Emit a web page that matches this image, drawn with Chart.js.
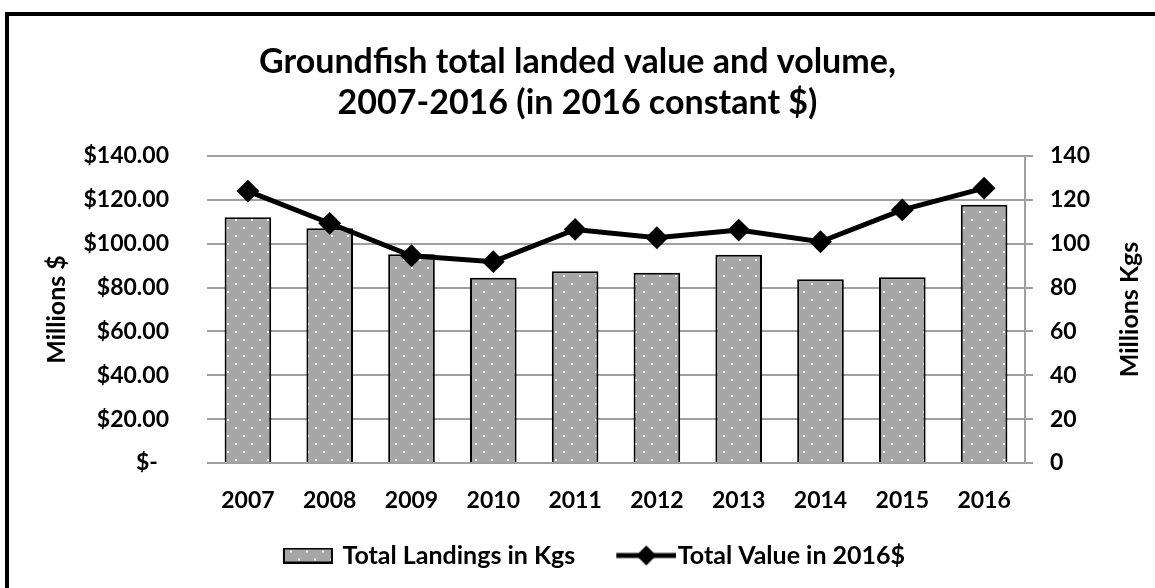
<!DOCTYPE html>
<html>
<head>
<meta charset="utf-8">
<script src="https://cdn.jsdelivr.net/npm/chart.js@4.4.1/dist/chart.umd.min.js"></script>
<style>
  html, body { margin: 0; padding: 0; background: #fff; overflow: hidden; }
  #wrap { position: relative; width: 1155px; height: 588px; }
  #frame { position: absolute; left: 5px; top: 12px; width: 1300px; height: 700px;
           border-left: 4px solid #000; border-top: 4px solid #000; box-sizing: border-box; }
  canvas { position: absolute; left: 0; top: 0; }
</style>
</head>
<body>
<div id="wrap">
  <div id="frame"></div>
  <canvas id="c" width="1155" height="588"></canvas>
</div>
<script>
// ---- data ----
const years = ['2007','2008','2009','2010','2011','2012','2013','2014','2015','2016'];
const landingsKgs = [112, 107, 95.2, 84.5, 87.4, 86.8, 95, 83.8, 84.7, 117.8];   // Millions Kgs
const valueDollars = [124, 109.3, 94.5, 91.8, 106.5, 102.7, 106.2, 100.9, 115.4, 125.3]; // Millions $
const valueTickLabels = ['$-  ', '$20.00', '$40.00', '$60.00', '$80.00', '$100.00', '$120.00', '$140.00'];
const kgsTickLabels = ['0', '20', '40', '60', '80', '100', '120', '140'];
const titleLines = ['Groundfish total landed value and volume,', '2007-2016 (in 2016 constant $)'];
const seriesNames = ['Total Landings in Kgs', 'Total Value in 2016$'];

const FONT = 'Lato';
const SLOT = 80;          // legend symbol slot width
const ICON_W = 102;       // legend icon canvas width (centred on slot)

function makeDotPattern() {
  const p = document.createElement('canvas');
  p.width = 16; p.height = 16;
  const g = p.getContext('2d');
  g.fillStyle = '#a6a6a6';
  g.fillRect(0, 0, 16, 16);
  g.fillStyle = '#ffffff';
  g.fillRect(3, 3, 2, 2);
  g.fillRect(11, 11, 2, 2);
  return p;
}

function makeBarLegendIcon(patternCanvas) {
  const c = document.createElement('canvas');
  c.width = ICON_W; c.height = 16;
  const g = c.getContext('2d');
  g.fillStyle = g.createPattern(patternCanvas, 'repeat');
  g.fillRect(44, 0, 50, 16);
  g.strokeStyle = '#000';
  g.lineWidth = 2;
  g.strokeRect(45, 1, 48, 14);
  return c;
}

function makeLineLegendIcon() {
  const c = document.createElement('canvas');
  c.width = ICON_W; c.height = 24;
  const g = c.getContext('2d');
  g.strokeStyle = '#000';
  g.lineWidth = 5;
  g.beginPath(); g.moveTo(42, 12); g.lineTo(ICON_W, 12); g.stroke();
  g.fillStyle = '#000';
  const cx = 72;
  g.beginPath();
  g.moveTo(cx - 10, 12); g.lineTo(cx, 2); g.lineTo(cx + 10, 12); g.lineTo(cx, 22); g.closePath();
  g.fill();
  return c;
}

const rightTitlePlugin = {
  id: 'rightTitle',
  afterDraw(chart) {
    const {ctx, chartArea} = chart;
    ctx.save();
    ctx.translate(1130, (chartArea.top + chartArea.bottom) / 2);
    ctx.rotate(-Math.PI / 2);
    ctx.font = 'bold 25px ' + FONT;
    ctx.fillStyle = '#000';
    ctx.textAlign = 'center';
    ctx.textBaseline = 'middle';
    ctx.fillText('Millions Kgs', 0, 0);
    ctx.restore();
  }
};

function build() {
  const pattern = makeDotPattern();
  const ctx = document.getElementById('c').getContext('2d');
  const barFill = ctx.createPattern(pattern, 'repeat');
  const barIcon = makeBarLegendIcon(pattern);
  const lineIcon = makeLineLegendIcon();

  Chart.defaults.font.family = FONT;
  Chart.defaults.font.weight = 'bold';
  Chart.defaults.color = '#000';

  new Chart(ctx, {
    type: 'bar',
    data: {
      labels: years,
      datasets: [
        {
          type: 'bar',
          label: seriesNames[0],
          data: landingsKgs,
          yAxisID: 'y2',
          backgroundColor: barFill,
          borderColor: '#000',
          borderWidth: 2,
          categoryPercentage: 1.0,
          barPercentage: 0.57,
          order: 2
        },
        {
          type: 'line',
          label: seriesNames[1],
          data: valueDollars,
          yAxisID: 'y',
          borderColor: '#000',
          backgroundColor: '#000',
          borderWidth: 5,
          pointStyle: 'rectRot',
          pointRadius: 10,
          pointBorderWidth: 2,
          pointBackgroundColor: '#000',
          pointBorderColor: '#000',
          tension: 0,
          order: 1
        }
      ]
    },
    options: {
      responsive: false,
      animation: false,
      layout: { padding: { left: 0, right: 0, top: 14, bottom: 10 } },
      plugins: {
        tooltip: { enabled: false },
        title: {
          display: true,
          text: titleLines,
          font: { size: 34, weight: 'bold', family: FONT, lineHeight: 1.22 },
          color: '#000',
          padding: { top: 27, bottom: 32 }
        },
        legend: {
          position: 'bottom',
          sort: (a, b) => a.datasetIndex - b.datasetIndex,
          labels: {
            font: { size: 25, weight: 'bold', family: FONT },
            color: '#000',
            usePointStyle: true,
            pointStyleWidth: SLOT,
            padding: 10,
            generateLabels(chart) {
              return chart.data.datasets.map((ds, i) => ({
                text: ds.label,
                datasetIndex: i,
                pointStyle: i === 0 ? barIcon : lineIcon,
                fillStyle: '#000',
                strokeStyle: '#000',
                lineWidth: 0,
                hidden: false,
                fontColor: '#000'
              }));
            }
          }
        }
      },
      scales: {
        x: {
          grid: { display: false },
          border: { display: false },
          ticks: { font: { size: 23, weight: 'bold' }, padding: 16, color: '#000' },
          afterFit(scale) { scale.height = 70; }
        },
        y: {
          position: 'left',
          min: 0, max: 140,
          grid: { display: false },
          border: { display: false },
          ticks: {
            stepSize: 20,
            padding: 30,
            font: { size: 23, weight: 'bold' },
            color: '#000',
            callback: (v) => valueTickLabels[Math.round(v / 20)]
          },
          title: {
            display: true,
            text: 'Millions $',
            font: { size: 25, weight: 'bold' },
            color: '#000',
            padding: { top: 42, bottom: 0 }
          },
          afterFit(scale) { scale.width = 207; }
        },
        y2: {
          position: 'right',
          min: 0, max: 140,
          grid: {
            display: true,
            drawOnChartArea: true,
            drawTicks: true,
            tickLength: 8,
            color: '#a0a0a0',
            lineWidth: 2
          },
          border: { display: true, color: '#a0a0a0', width: 2 },
          ticks: {
            stepSize: 20,
            padding: 17,
            font: { size: 23, weight: 'bold' },
            color: '#000',
            callback: (v) => kgsTickLabels[Math.round(v / 20)]
          },
          afterFit(scale) { scale.width = 130; }
        }
      }
    },
    plugins: [rightTitlePlugin]
  });
}

if (document.fonts && document.fonts.load) {
  Promise.all([
    document.fonts.load('bold 23px Lato'),
    document.fonts.load('bold 34px Lato')
  ]).then(build, build);
} else {
  build();
}
</script>
</body>
</html>
